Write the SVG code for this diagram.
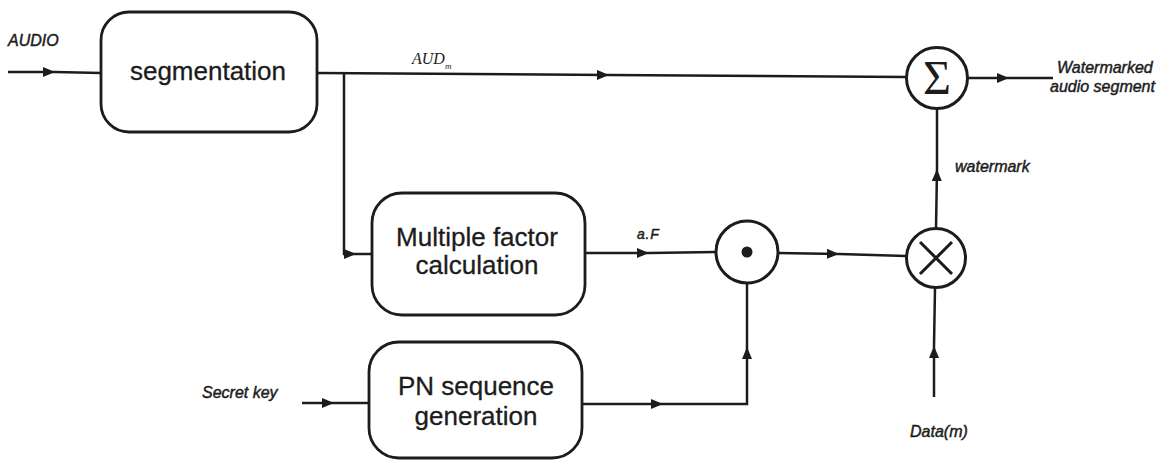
<svg xmlns="http://www.w3.org/2000/svg" width="1163" height="460" viewBox="0 0 1163 460">
<style>
.box{fill:none;stroke:#1c1c1c;stroke-width:2.8}
.op{fill:none;stroke:#1c1c1c;stroke-width:3}
.ln{fill:none;stroke:#1c1c1c;stroke-width:2.5}
.main{font-family:"Liberation Sans",Arial,sans-serif;font-size:26px;fill:#1c1c1c;stroke:#1c1c1c;stroke-width:0.3;text-anchor:middle}
.lbl{font-family:"Liberation Sans",Arial,sans-serif;font-size:16px;font-style:italic;fill:#1c1c1c;stroke:#1c1c1c;stroke-width:0.45}
</style>
<defs>
<marker id="arr" markerUnits="userSpaceOnUse" markerWidth="12" markerHeight="10" viewBox="0 0 12 10" refX="12" refY="5" orient="auto">
<path d="M0,0 L12,5 L0,10 z" fill="#1c1c1c"/>
</marker>
</defs>
<rect width="1163" height="460" fill="#ffffff"/>
<g id="connectors">
<path class="ln" d="M8,72 L55,72" marker-end="url(#arr)"/>
<path class="ln" d="M55,72 L101,73"/>
<path class="ln" d="M317,73 L609,75" marker-end="url(#arr)"/>
<path class="ln" d="M609,75 L906,77"/>
<path class="ln" d="M344,73 L344,254 L356,254" marker-end="url(#arr)"/>
<path class="ln" d="M356,254 L372,254"/>
<path class="ln" d="M585,253 L649,253" marker-end="url(#arr)"/>
<path class="ln" d="M649,253 L716,252"/>
<path class="ln" d="M302,403 L334,403" marker-end="url(#arr)"/>
<path class="ln" d="M334,403 L369,403"/>
<path class="ln" d="M582,404 L663,404" marker-end="url(#arr)"/>
<path class="ln" d="M663,404 L747,404 L747,347" marker-end="url(#arr)"/>
<path class="ln" d="M747,347 L747,283"/>
<path class="ln" d="M778,253 L839,254" marker-end="url(#arr)"/>
<path class="ln" d="M839,254 L906,256"/>
<path class="ln" d="M934,397 L934,346" marker-end="url(#arr)"/>
<path class="ln" d="M934,346 L935,288"/>
<path class="ln" d="M936,229 L937,169" marker-end="url(#arr)"/>
<path class="ln" d="M937,169 L937,108"/>
<path class="ln" d="M968,78 L1009,78" marker-end="url(#arr)"/>
<path class="ln" d="M1009,78 L1053,78"/>
</g>
<g id="segmentation">
<rect class="box" x="101" y="12" width="216" height="120" rx="28"/>
<text class="main" x="208" y="80">segmentation</text>
</g>
<g id="multiple-factor">
<rect class="box" x="372" y="193" width="213" height="122" rx="30"/>
<text class="main" x="477" y="246">Multiple factor</text>
<text class="main" x="477" y="274">calculation</text>
</g>
<g id="pn-sequence">
<rect class="box" x="369" y="342" width="213" height="116" rx="30"/>
<text class="main" x="476" y="395">PN sequence</text>
<text class="main" x="476" y="425">generation</text>
</g>
<g id="dot-product">
<circle class="op" cx="747" cy="252" r="31"/>
<circle cx="747" cy="252" r="5.5" fill="#1c1c1c"/>
</g>
<g id="multiplier">
<circle class="op" cx="936" cy="258" r="29.5"/>
<path class="op" d="M920,242 L952,274 M952,242 L920,274"/>
</g>
<g id="summer">
<circle class="op" cx="937" cy="78" r="30.5"/>
<text x="937" y="94" font-family="'Liberation Serif','Times New Roman',serif" font-size="48" text-anchor="middle" fill="#1c1c1c">Σ</text>
</g>
<g id="labels">
<text class="lbl" x="8" y="46">AUDIO</text>
<text x="412" y="64" font-family="'Liberation Serif','Times New Roman',serif" font-size="16" font-style="italic" fill="#1c1c1c">AUD<tspan font-size="9" dy="5">m</tspan></text>
<text class="lbl" x="637" y="239" style="font-size:14px" letter-spacing="0.8">a.F</text>
<text class="lbl" x="202" y="398">Secret key</text>
<text class="lbl" x="955" y="172">watermark</text>
<text class="lbl" x="1057" y="73">Watermarked</text>
<text class="lbl" x="1050" y="92">audio segment</text>
<text class="lbl" x="910" y="437">Data(m)</text>
</g>
</svg>
